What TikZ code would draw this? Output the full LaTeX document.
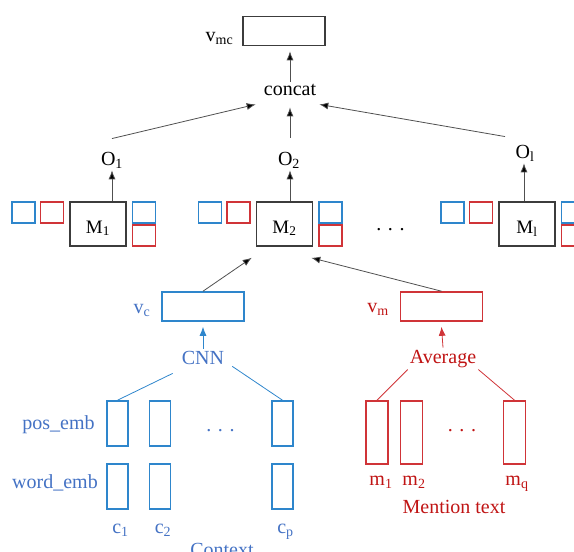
\documentclass[tikz,border=0pt]{standalone}
\usepackage{fontspec}
\setmainfont{Liberation Serif}
\usetikzlibrary{calc,arrows.meta}
\definecolor{boxblue}{RGB}{46,134,204}
\definecolor{txtblue}{RGB}{68,114,196}
\definecolor{boxred}{RGB}{208,52,56}
\definecolor{txtred}{RGB}{192,20,20}
\definecolor{boxgray}{RGB}{60,60,60}
\definecolor{arrgray}{RGB}{80,80,80}
\newcommand{\mblock}[3]{
	\node[mbox] (#1) at (#2,224) {M\textsubscript{#3}};
	\node[sbox, draw=boxred, anchor=north east] (#1lr) at ([xshift=-5pt]#1.north west) {};
	\node[sbox, draw=boxblue, anchor=north east] (#1lb) at ([xshift=-4pt]#1lr.north west) {};
	\node[sbox, draw=boxblue, anchor=north west] (#1rb) at ([xshift=5pt]#1.north east) {};
	\node[sbox, draw=boxred, anchor=south west] (#1rr) at ([xshift=5pt]#1.south east) {};
}
\begin{document}
\begin{tikzpicture}[x=1pt,y=-1pt,
	txt/.style={font=\fontsize{20}{24}\selectfont, inner sep=2pt, anchor=base},
	mbox/.style={draw=boxgray, line width=1.6pt, minimum width=56pt, minimum height=44pt,
		inner sep=0pt, text height=18pt, text depth=0pt, font=\fontsize{19}{22}\selectfont},
	sbox/.style={line width=1.6pt, minimum width=23pt, minimum height=21pt, inner sep=0pt},
	vbox/.style={line width=1.6pt, minimum width=82pt, minimum height=29pt, inner sep=0pt},
	cbox/.style={draw=boxblue, line width=1.6pt, minimum width=21pt, minimum height=45pt, inner sep=0pt},
	mtbox/.style={draw=boxred, line width=1.6pt, minimum width=22pt, minimum height=63pt, inner sep=0pt},
	arr/.style={-{Latex[length=9pt,width=7pt,fill=black]}, draw=arrgray, line width=0.8pt}]
	\useasboundingbox (0,0) rectangle (574,552);
	\clip (0,0) rectangle (574,552);

	% top
	\node[vbox, draw=boxgray] (vmc) at (284,31) {};
	\node[txt] (vmclbl) at (219.5,41) {v\textsubscript{mc}};
	\node[txt] (concat) at (290,95) {concat};
	\node[txt] (o1) at (112,165) {O\textsubscript{1}};
	\node[txt] (o2) at (289,165) {O\textsubscript{2}};
	\node[txt] (ol) at (525,158) {O\textsubscript{l}};

	% memory blocks
	\mblock{m1}{98}{1}
	\mblock{m2}{284.5}{2}
	\mblock{ml}{527}{l}
	\node[txt] (mdots) at (390.5,230) {. . .};

	\draw[arr, shorten >=5pt] (concat.north) -- (concat.north |- vmc.south);
	\draw[arr] ([yshift=11pt]o1.north) -- ([shift={(-6pt,-7pt)}]concat.south west);
	\draw[arr, shorten >=10pt] ([shift={(1pt,12pt)}]o2.north) -- ([xshift=1pt]o2.north |- concat.south);
	\draw[arr] ([shift={(-20pt,6pt)}]ol.north) -- ([shift={(1pt,-7pt)}]concat.south east);
	\draw[arr] (m1.north -| o1) -- (o1.south);
	\draw[arr] ([xshift=1pt]m2.north -| o2) -- ([xshift=1pt]o2.south);
	\draw[arr] ([xshift=-1pt]ml.north -| ol) -- ([xshift=-1pt]ol.south);

	% context side
	\node[vbox, draw=boxblue] (vc) at (203,306.5) {};
	\node[txt, text=txtblue] (vclbl) at (142,313) {v\textsubscript{c}};
	\node[txt, text=txtblue] (cnn) at (203,364) {CNN};
	\draw[arr, draw=boxblue, -{Latex[length=9pt,width=7pt,fill=boxblue]}] (cnn.north) -- ([yshift=-5pt]vc.south);
	\draw[arr] (vc.north) -- ([shift={(-4pt,-11pt)}]m2.south west);
	\foreach \n/\x in {1/117.5, 2/160, p/282.5}{
		\node[cbox] (pos\n) at (\x,423.5) {};
		\node[cbox] (word\n) at (\x,486.5) {};
		\node[txt, text=txtblue] (clbl\n) at (\x+3,533) {c\textsubscript{\n}};
	}
	\draw[boxblue, line width=0.8pt] ([shift={(-7pt,-7pt)}]cnn.south west) -- (pos1.north);
	\draw[boxblue, line width=0.8pt] ([xshift=6pt]cnn.south east) -- (posp.north);
	\node[txt, text=txtblue] (ctxdots) at (220.5,431) {. . .};
	\node[txt, text=txtblue] (poslbl) at (58.5,429) {pos\_emb};
	\node[txt, text=txtblue] (wordlbl) at (55,488) {word\_emb};
	\node[txt, text=txtblue] (ctxlbl) at (222,556) {Context};

	% mention side
	\node[vbox, draw=boxred] (vm) at (441.5,306.5) {};
	\node[txt, text=txtred] (vmlbl) at (378,312) {v\textsubscript{m}};
	\node[txt, text=txtred] (avg) at (443,363) {Average};
	\draw[arr, draw=boxred, -{Latex[length=9pt,width=7pt,fill=boxred]}] (avg.north) -- ([yshift=-5pt]vm.south);
	\draw[arr] (vm.north) -- ([shift={(-2pt,-11pt)}]m2.south east);
	\foreach \n/\x/\dx in {1/377/4, 2/411.5/2.5, q/514.5/2.5}{
		\node[mtbox] (men\n) at (\x,432.5) {};
		\node[txt, text=txtred] (mlbl\n) at (\x+\dx,485) {m\textsubscript{\n}};
	}
	\draw[boxred, line width=0.8pt] (avg.south west) -- (men1.north);
	\draw[boxred, line width=0.8pt] (avg.south east) -- (menq.north);
	\node[txt, text=txtred] (mendots) at (462,431) {. . .};
	\node[txt, text=txtred] (menlbl) at (454,513) {Mention text};
\end{tikzpicture}
\end{document}
